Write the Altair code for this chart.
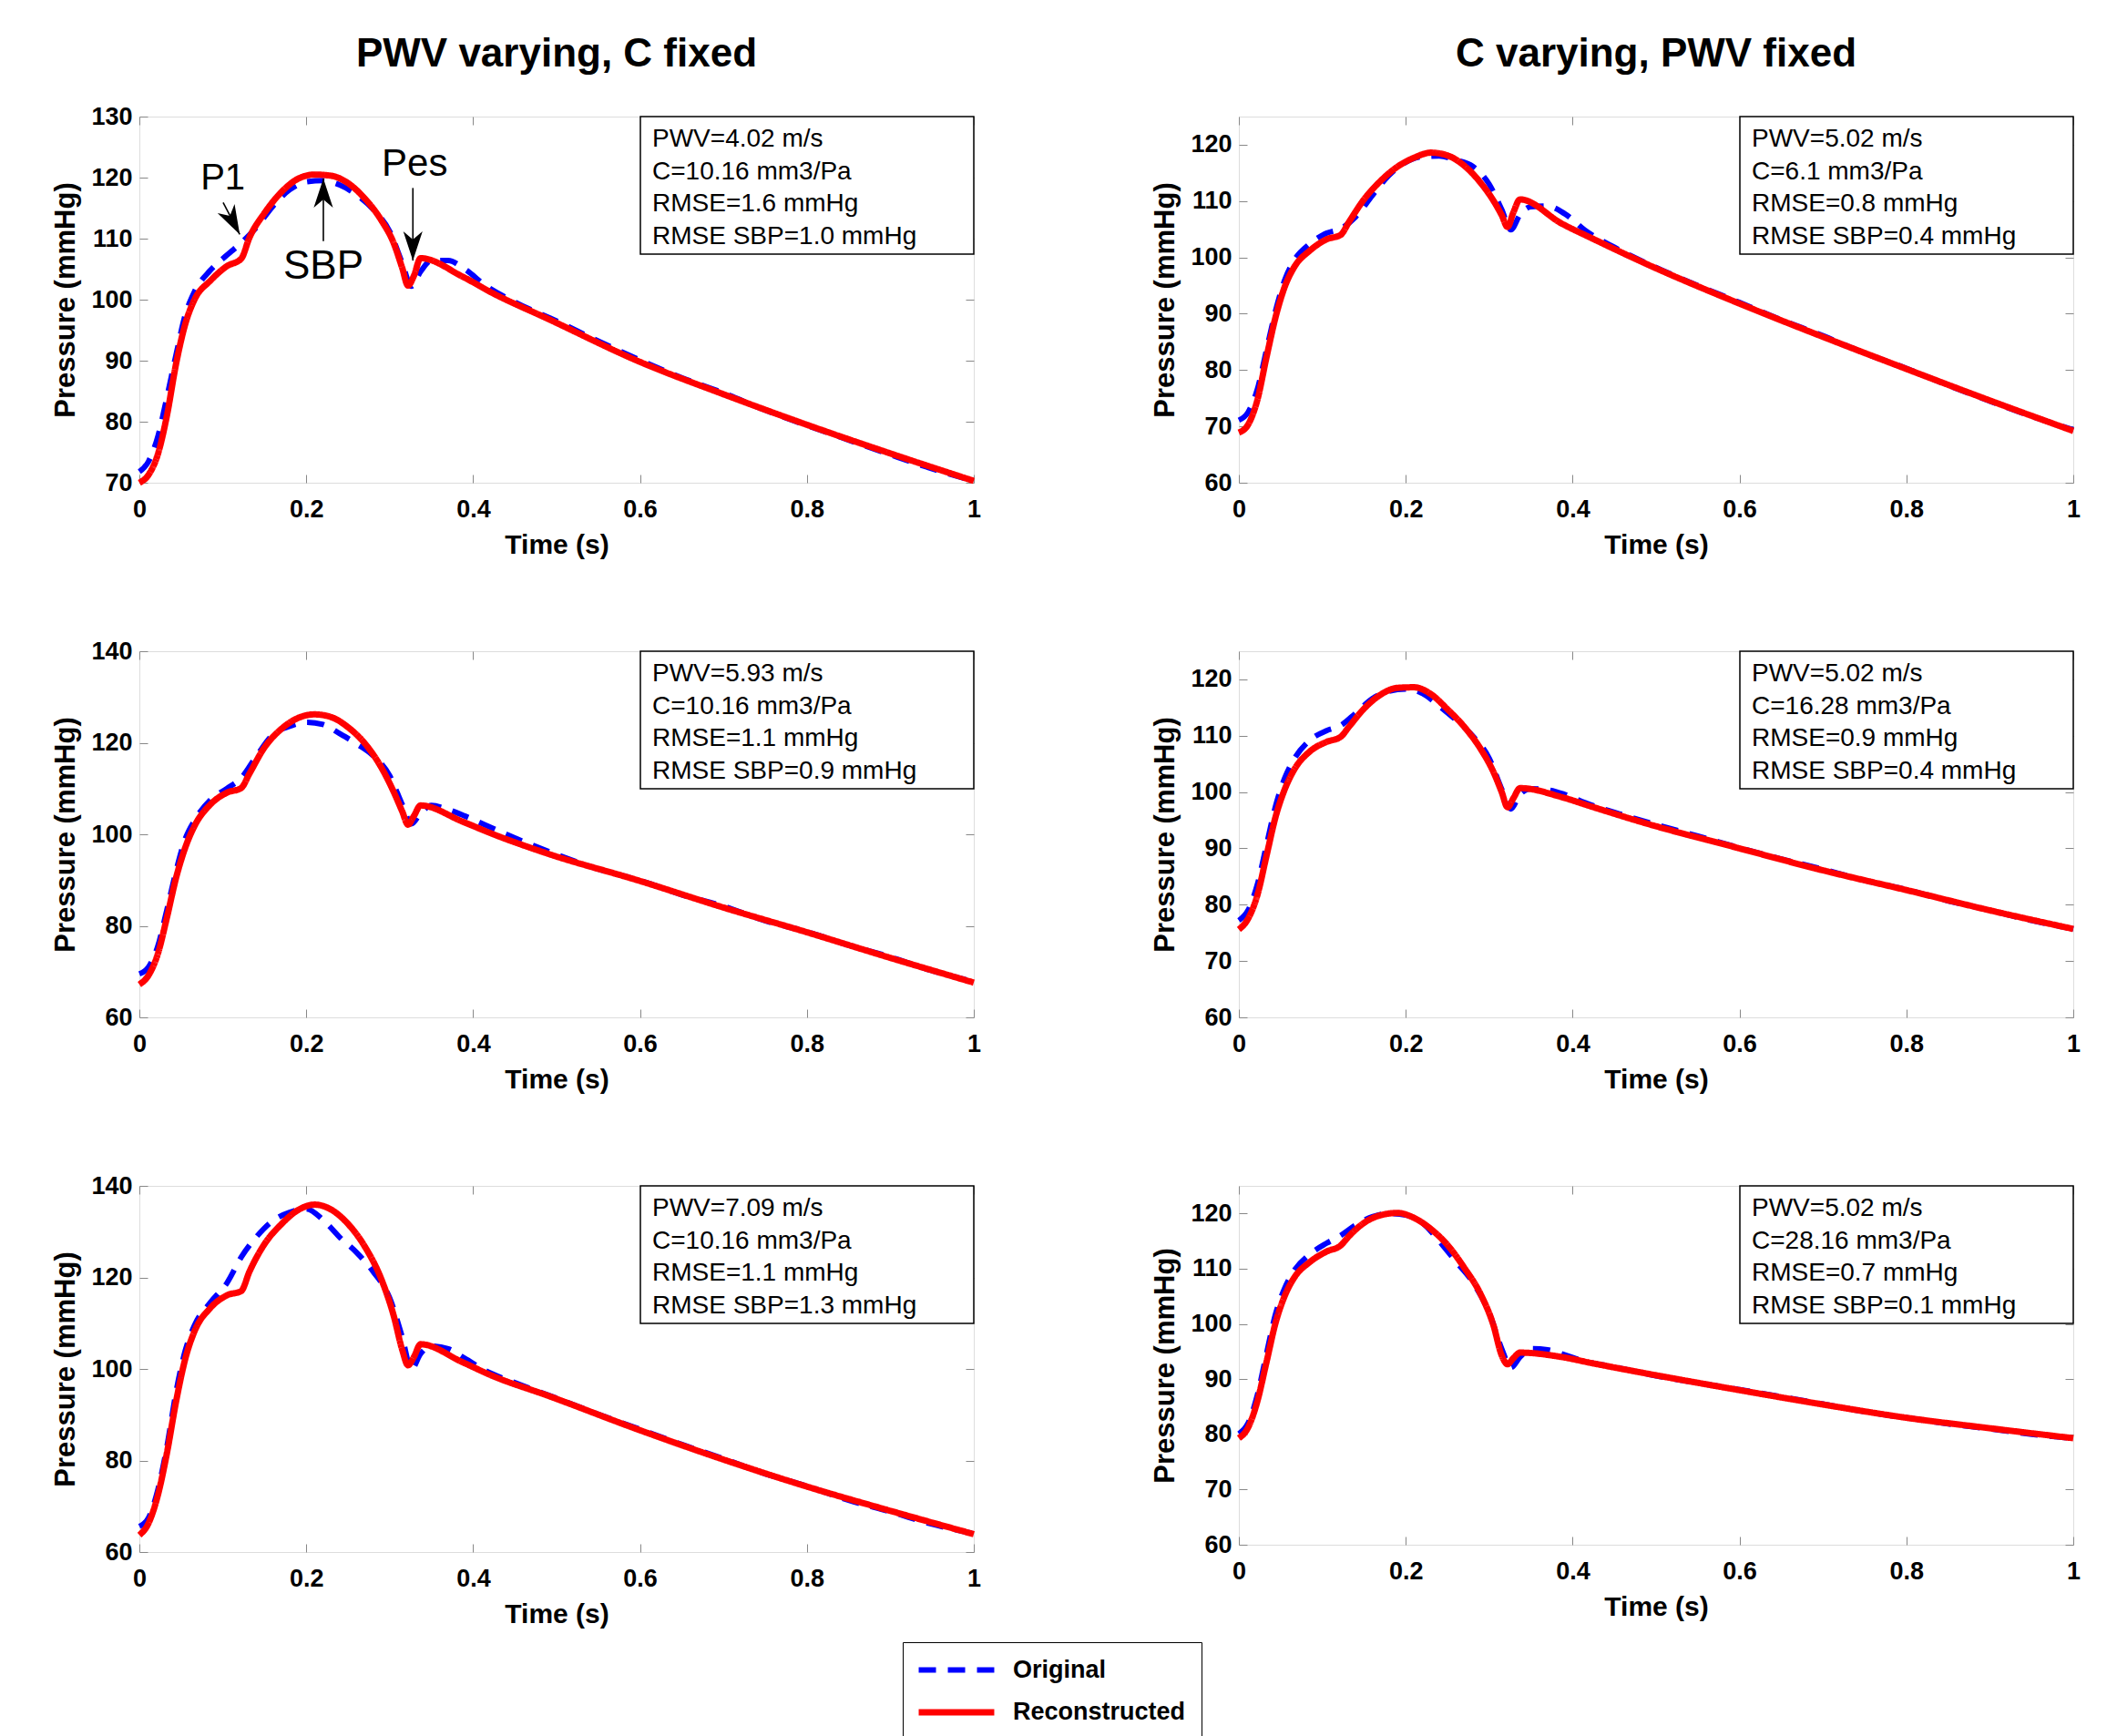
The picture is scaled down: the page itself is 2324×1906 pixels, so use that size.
import altair as alt
import pandas as pd

FONT = "Liberation Sans, Arial, Helvetica, sans-serif"

# ---- time grids (s) ----
T_REC = [0, 0.011, 0.022, 0.033, 0.044, 0.055, 0.066, 0.085, 0.105, 0.122, 0.132, 0.15,
         0.17, 0.19, 0.21, 0.23, 0.25, 0.27, 0.29, 0.305, 0.315, 0.322, 0.329, 0.337,
         0.387, 0.423, 0.489, 0.6, 0.7, 0.8, 0.9, 1.0]
T_ORIG = [0, 0.011, 0.022, 0.033, 0.044, 0.055, 0.066, 0.085, 0.105, 0.122, 0.14, 0.16,
          0.18, 0.2, 0.22, 0.24, 0.26, 0.28, 0.3, 0.315, 0.326, 0.337, 0.35, 0.37, 0.39,
          0.415, 0.45, 0.5, 0.55, 0.6, 0.65, 0.7, 0.75, 0.8, 0.85, 0.9, 0.95, 1.0]

# ---- pressures (mmHg) ----
# PWV varying, C fixed
REC_PWV402 = [70.0, 71.3, 74.6, 81.0, 89.5, 96.0, 100.0, 103.1, 105.5, 106.7, 110.2, 114.2,
              117.6, 119.8, 120.5, 120.3, 119.1, 116.6, 113.0, 109.2, 105.2, 102.3, 103.9, 106.8,
              103.8, 101.1, 96.9, 89.8, 84.5, 79.5, 74.8, 70.3]
ORIG_PWV402 = [71.8, 73.5, 77.5, 84.0, 91.0, 97.5, 101.3, 104.8, 107.3, 109.3, 111.8, 115.3,
               118.0, 119.3, 119.5, 118.8, 117.2, 114.8, 111.2, 106.0, 102.2, 104.6, 106.4, 106.4,
               105.0, 102.3, 99.6, 96.5, 93.2, 90.1, 87.2, 84.7, 81.9, 79.4, 77.0, 74.6, 72.3, 70.3]
REC_PWV593 = [67.2, 69.2, 73.8, 81.8, 90.5, 97.1, 101.8, 106.5, 109.1, 110.1, 113.3, 119.0,
              123.0, 125.4, 126.2, 125.6, 123.4, 119.9, 114.6, 109.2, 105.0, 102.1, 104.0, 106.3,
              102.8, 100.1, 95.8, 89.8, 84.0, 78.6, 73.0, 67.6]
ORIG_PWV593 = [69.5, 71.0, 75.5, 83.5, 92.0, 99.0, 103.0, 107.5, 110.0, 112.3, 117.0, 121.8,
               123.6, 124.5, 124.0, 122.0, 119.8, 117.2, 112.8, 106.5, 102.3, 104.6, 106.3, 105.4,
               104.0, 102.0, 99.2, 95.6, 92.4, 89.9, 86.8, 84.3, 81.1, 78.7, 75.8, 73.2, 70.2, 67.8]
REC_PWV709 = [63.7, 66.3, 72.3, 81.6, 92.9, 102.2, 108.2, 113.3, 116.1, 117.0, 121.3, 127.3,
              131.6, 134.7, 135.9, 134.8, 131.7, 126.8, 119.6, 111.5, 104.2, 100.8, 102.6, 105.4,
              101.5, 98.5, 94.2, 86.6, 80.2, 74.3, 69.0, 63.9]
ORIG_PWV709 = [65.6, 67.5, 73.5, 83.0, 95.0, 104.0, 109.5, 114.5, 118.8, 124.4, 128.8, 132.4,
               134.2, 135.0, 132.6, 128.8, 125.5, 121.3, 115.5, 107.0, 99.9, 103.3, 105.0, 104.4,
               102.3, 99.6, 97.0, 93.6, 90.1, 86.8, 83.5, 80.4, 77.1, 74.4, 71.3, 68.8, 66.1, 64.0]
# C varying, PWV fixed
REC_C61 = [68.9, 70.3, 74.6, 82.2, 89.4, 94.8, 98.2, 101.2, 103.2, 104.0, 106.3, 110.3,
           113.6, 116.1, 117.7, 118.6, 118.1, 116.3, 113.2, 110.1, 107.5, 105.4, 108.0, 110.3,
           106.0, 103.4, 98.8, 91.8, 85.9, 80.2, 74.6, 69.2]
ORIG_C61 = [71.1, 72.5, 76.5, 83.5, 90.5, 96.0, 99.4, 102.4, 104.3, 105.1, 107.2, 111.0,
            114.6, 116.9, 117.9, 118.0, 117.3, 116.2, 113.0, 108.5, 104.9, 107.6, 109.0, 109.1,
            107.8, 104.8, 101.8, 98.2, 95.0, 92.0, 88.9, 86.1, 83.0, 80.3, 77.3, 74.5, 71.8, 69.4]
REC_C1628 = [75.6, 77.5, 81.6, 88.6, 95.6, 100.5, 103.9, 107.2, 108.9, 109.8, 111.6, 114.8,
             117.3, 118.5, 118.6, 117.4, 114.7, 111.6, 107.6, 103.6, 100.0, 97.3, 98.9, 100.7,
             99.1, 97.4, 94.4, 90.0, 86.1, 82.6, 79.0, 75.7]
ORIG_C1628 = [77.2, 79.0, 83.5, 90.5, 97.5, 102.5, 105.8, 109.2, 110.9, 111.8, 114.0, 116.6,
              117.9, 118.3, 117.5, 115.3, 112.8, 110.0, 106.0, 100.5, 97.0, 99.6, 100.6, 100.4,
              99.6, 98.1, 96.4, 94.2, 92.2, 90.1, 88.1, 86.3, 84.3, 82.7, 80.7, 79.0, 77.2, 75.7]
REC_C2816 = [79.3, 81.2, 85.9, 93.0, 100.2, 105.1, 108.3, 111.2, 113.1, 114.2, 115.9, 118.3,
             119.7, 120.1, 119.2, 117.2, 114.3, 110.2, 105.3, 99.8, 94.3, 92.7, 93.8, 94.8,
             94.0, 92.9, 91.0, 88.0, 85.4, 83.0, 81.1, 79.3]
ORIG_C2816 = [80.1, 82.0, 87.0, 94.5, 101.8, 106.5, 109.6, 112.6, 114.6, 116.0, 117.9, 119.4,
              120.0, 119.7, 118.3, 115.0, 111.3, 107.6, 102.0, 95.5, 92.1, 94.0, 95.5, 95.3,
              94.4, 93.2, 92.2, 90.6, 89.3, 88.1, 86.8, 85.5, 84.1, 83.0, 81.9, 81.0, 80.0, 79.3]

# ---- info boxes ----
INFO_PWV402 = ["PWV=4.02 m/s", "C=10.16 mm3/Pa", "RMSE=1.6 mmHg", "RMSE SBP=1.0 mmHg"]
INFO_PWV593 = ["PWV=5.93 m/s", "C=10.16 mm3/Pa", "RMSE=1.1 mmHg", "RMSE SBP=0.9 mmHg"]
INFO_PWV709 = ["PWV=7.09 m/s", "C=10.16 mm3/Pa", "RMSE=1.1 mmHg", "RMSE SBP=1.3 mmHg"]
INFO_C61 = ["PWV=5.02 m/s", "C=6.1 mm3/Pa", "RMSE=0.8 mmHg", "RMSE SBP=0.4 mmHg"]
INFO_C1628 = ["PWV=5.02 m/s", "C=16.28 mm3/Pa", "RMSE=0.9 mmHg", "RMSE SBP=0.4 mmHg"]
INFO_C2816 = ["PWV=5.02 m/s", "C=28.16 mm3/Pa", "RMSE=0.7 mmHg", "RMSE SBP=0.1 mmHg"]

# ---- axes ----
X_TICKS = [0, 0.2, 0.4, 0.6, 0.8, 1]
Y_TICKS_130 = [70, 80, 90, 100, 110, 120, 130]
Y_TICKS_140 = [60, 80, 100, 120, 140]
Y_TICKS_125 = [60, 70, 80, 90, 100, 110, 120]

SERIES = ["Original", "Reconstructed"]
COLORS = ["#0000ff", "#ff0000"]
DASHES = [[19, 13], [1, 0]]
WIDTHS = [6, 7]

# ---- annotations (panel PWV=4.02) ----
ANN_LABELS = ["P1", "SBP", "Pes"]
ANN_T = [0.100, 0.2205, 0.330]
ANN_P = [119.8, 105.3, 122.2]
ANN_SIZE = [40, 44, 42]
ARROW_T0 = [0.1004, 0.2205, 0.3278]
ARROW_P0 = [115.9, 109.6, 118.3]
ARROW_T1 = [0.1203, 0.2205, 0.3278]
ARROW_P1 = [110.7, 119.86, 106.4]
ARROW_ANGLE = [332, 180, 0]
ARROW_PATH = "M0,0L-0.33,-1L0,-0.72L0.33,-1Z"

W = 916
TICK = 9

LEGEND = alt.Legend(
    title=None, orient="none", legendX=838, legendY=1675, direction="vertical",
    symbolType="M-4,0L4,0", symbolSize=430, symbolStrokeWidth=6, symbolOffset=28,
    labelFont=FONT, labelFontSize=27, labelFontWeight="bold", labelOffset=48,
    labelLimit=500, labelColor="black", rowPadding=19, padding=17, strokeColor="black",
    fillColor="white",
)


def x_axis_main():
    return alt.Axis(values=X_TICKS, format="~g", orient="bottom", offset=-TICK, tickSize=TICK,
                    domain=False, labelFontSize=27, labelFontWeight="bold", labelPadding=16,
                    labelFlush=False, labelOverlap=False, title="Time (s)", titleFontSize=30,
                    titleFontWeight="bold", titlePadding=11, grid=False)


def y_axis_main(ticks):
    return alt.Axis(values=ticks, orient="left", offset=-TICK, tickSize=TICK, domain=False,
                    labelFontSize=27, labelFontWeight="bold", labelPadding=8, labelFlush=False,
                    labelOverlap=False, title="Pressure (mmHg)", titleFontSize=31,
                    titleFontWeight="bold", titlePadding=11, grid=False)


def mirror_axis(orient, ticks):
    return alt.Axis(values=ticks, orient=orient, offset=-TICK, tickSize=TICK, domain=False,
                    labels=False, title=None, grid=False)


def panel(rec, orig, domain, yticks, info, height=402, title=None, title_offset=45,
          annotate=False):
    df = pd.DataFrame({
        "t": T_ORIG + T_REC,
        "p": orig + rec,
        "series": [SERIES[0]] * len(T_ORIG) + [SERIES[1]] * len(T_REC),
    })
    xs = alt.Scale(domain=[0, 1], nice=False, zero=False)
    ys = alt.Scale(domain=domain, nice=False, zero=False)

    lines = alt.Chart(df).mark_line(strokeCap="butt", strokeJoin="round", interpolate="monotone").encode(
        x=alt.X("t:Q", scale=xs, axis=x_axis_main()),
        y=alt.Y("p:Q", scale=ys, axis=y_axis_main(yticks)),
        color=alt.Color("series:N", scale=alt.Scale(domain=SERIES, range=COLORS), legend=LEGEND),
        strokeDash=alt.StrokeDash("series:N", scale=alt.Scale(domain=SERIES, range=DASHES), legend=LEGEND),
        strokeWidth=alt.StrokeWidth("series:N", scale=alt.Scale(domain=SERIES, range=WIDTHS), legend=None),
    )
    mirror = alt.Chart(df).mark_line(opacity=0).encode(
        x=alt.X("t:Q", scale=xs, axis=mirror_axis("top", X_TICKS)),
        y=alt.Y("p:Q", scale=ys, axis=mirror_axis("right", yticks)),
    )
    box = alt.Chart(pd.DataFrame({"k": [0]})).mark_rect(
        fill="white", stroke="black", strokeWidth=1.5
    ).encode(x=alt.value(550), x2=alt.value(W), y=alt.value(0), y2=alt.value(151))
    txt = alt.Chart(pd.DataFrame({"label": ["\n".join(info)]})).mark_text(
        align="left", baseline="top", lineBreak="\n", lineHeight=35.6, fontSize=28,
        font=FONT, color="black"
    ).encode(x=alt.value(563), y=alt.value(11), text="label:N")

    layers = [lines, mirror, box, txt]
    if annotate:
        adf = pd.DataFrame({"t": ANN_T, "p": ANN_P, "label": ANN_LABELS})
        for i in range(len(ANN_LABELS)):
            layers.append(alt.Chart(adf.iloc[[i]]).mark_text(
                fontSize=ANN_SIZE[i], font=FONT, color="black", align="center", baseline="middle"
            ).encode(x=alt.X("t:Q", scale=xs, axis=None), y=alt.Y("p:Q", scale=ys, axis=None), text="label:N"))
        rdf = pd.DataFrame({"t0": ARROW_T0, "p0": ARROW_P0, "t1": ARROW_T1, "p1": ARROW_P1,
                            "ang": ARROW_ANGLE})
        layers.append(alt.Chart(rdf).mark_rule(color="black", strokeWidth=1.6).encode(
            x=alt.X("t0:Q", scale=xs, axis=None), y=alt.Y("p0:Q", scale=ys, axis=None),
            x2="t1:Q", y2="p1:Q"))
        layers.append(alt.Chart(rdf).mark_point(
            shape=ARROW_PATH, filled=True, color="black", opacity=1, size=4096
        ).encode(x=alt.X("t1:Q", scale=xs, axis=None), y=alt.Y("p1:Q", scale=ys, axis=None),
                 angle=alt.Angle("ang:Q", scale=None)))

    props = dict(width=W, height=height)
    if title is not None:
        props["title"] = alt.TitleParams(text=title, frame="group", anchor="middle", fontSize=44,
                                         fontWeight="bold", font=FONT, color="black",
                                         offset=title_offset)
    return alt.layer(*layers).resolve_axis(x="independent", y="independent").properties(**props)


p1 = panel(REC_PWV402, ORIG_PWV402, [70, 130], Y_TICKS_130, INFO_PWV402,
           title="PWV varying, C fixed", title_offset=32, annotate=True)
p3 = panel(REC_PWV593, ORIG_PWV593, [60, 140], Y_TICKS_140, INFO_PWV593)
p5 = panel(REC_PWV709, ORIG_PWV709, [60, 140], Y_TICKS_140, INFO_PWV709)
p2 = panel(REC_C61, ORIG_C61, [60, 125], Y_TICKS_125, INFO_C61, title="C varying, PWV fixed")
p4 = panel(REC_C1628, ORIG_C1628, [60, 125], Y_TICKS_125, INFO_C1628)
p6 = panel(REC_C2816, ORIG_C2816, [60, 125], Y_TICKS_125, INFO_C2816, height=394)

left = alt.vconcat(p1, p3, p5, spacing=86)
right = alt.vconcat(p2, p4, p6, spacing=99)

chart = alt.hconcat(left, right, spacing=185).properties(
    padding={"left": 48, "top": 29, "right": 0, "bottom": 0}
).configure_view(
    stroke="black", strokeWidth=1.5
).configure_axis(
    tickColor="black", tickWidth=1.5, labelColor="black", titleColor="black",
    labelFont=FONT, titleFont=FONT
).configure(background="white")

chart.save("out.html", embed_options={"renderer": "svg", "actions": False})
